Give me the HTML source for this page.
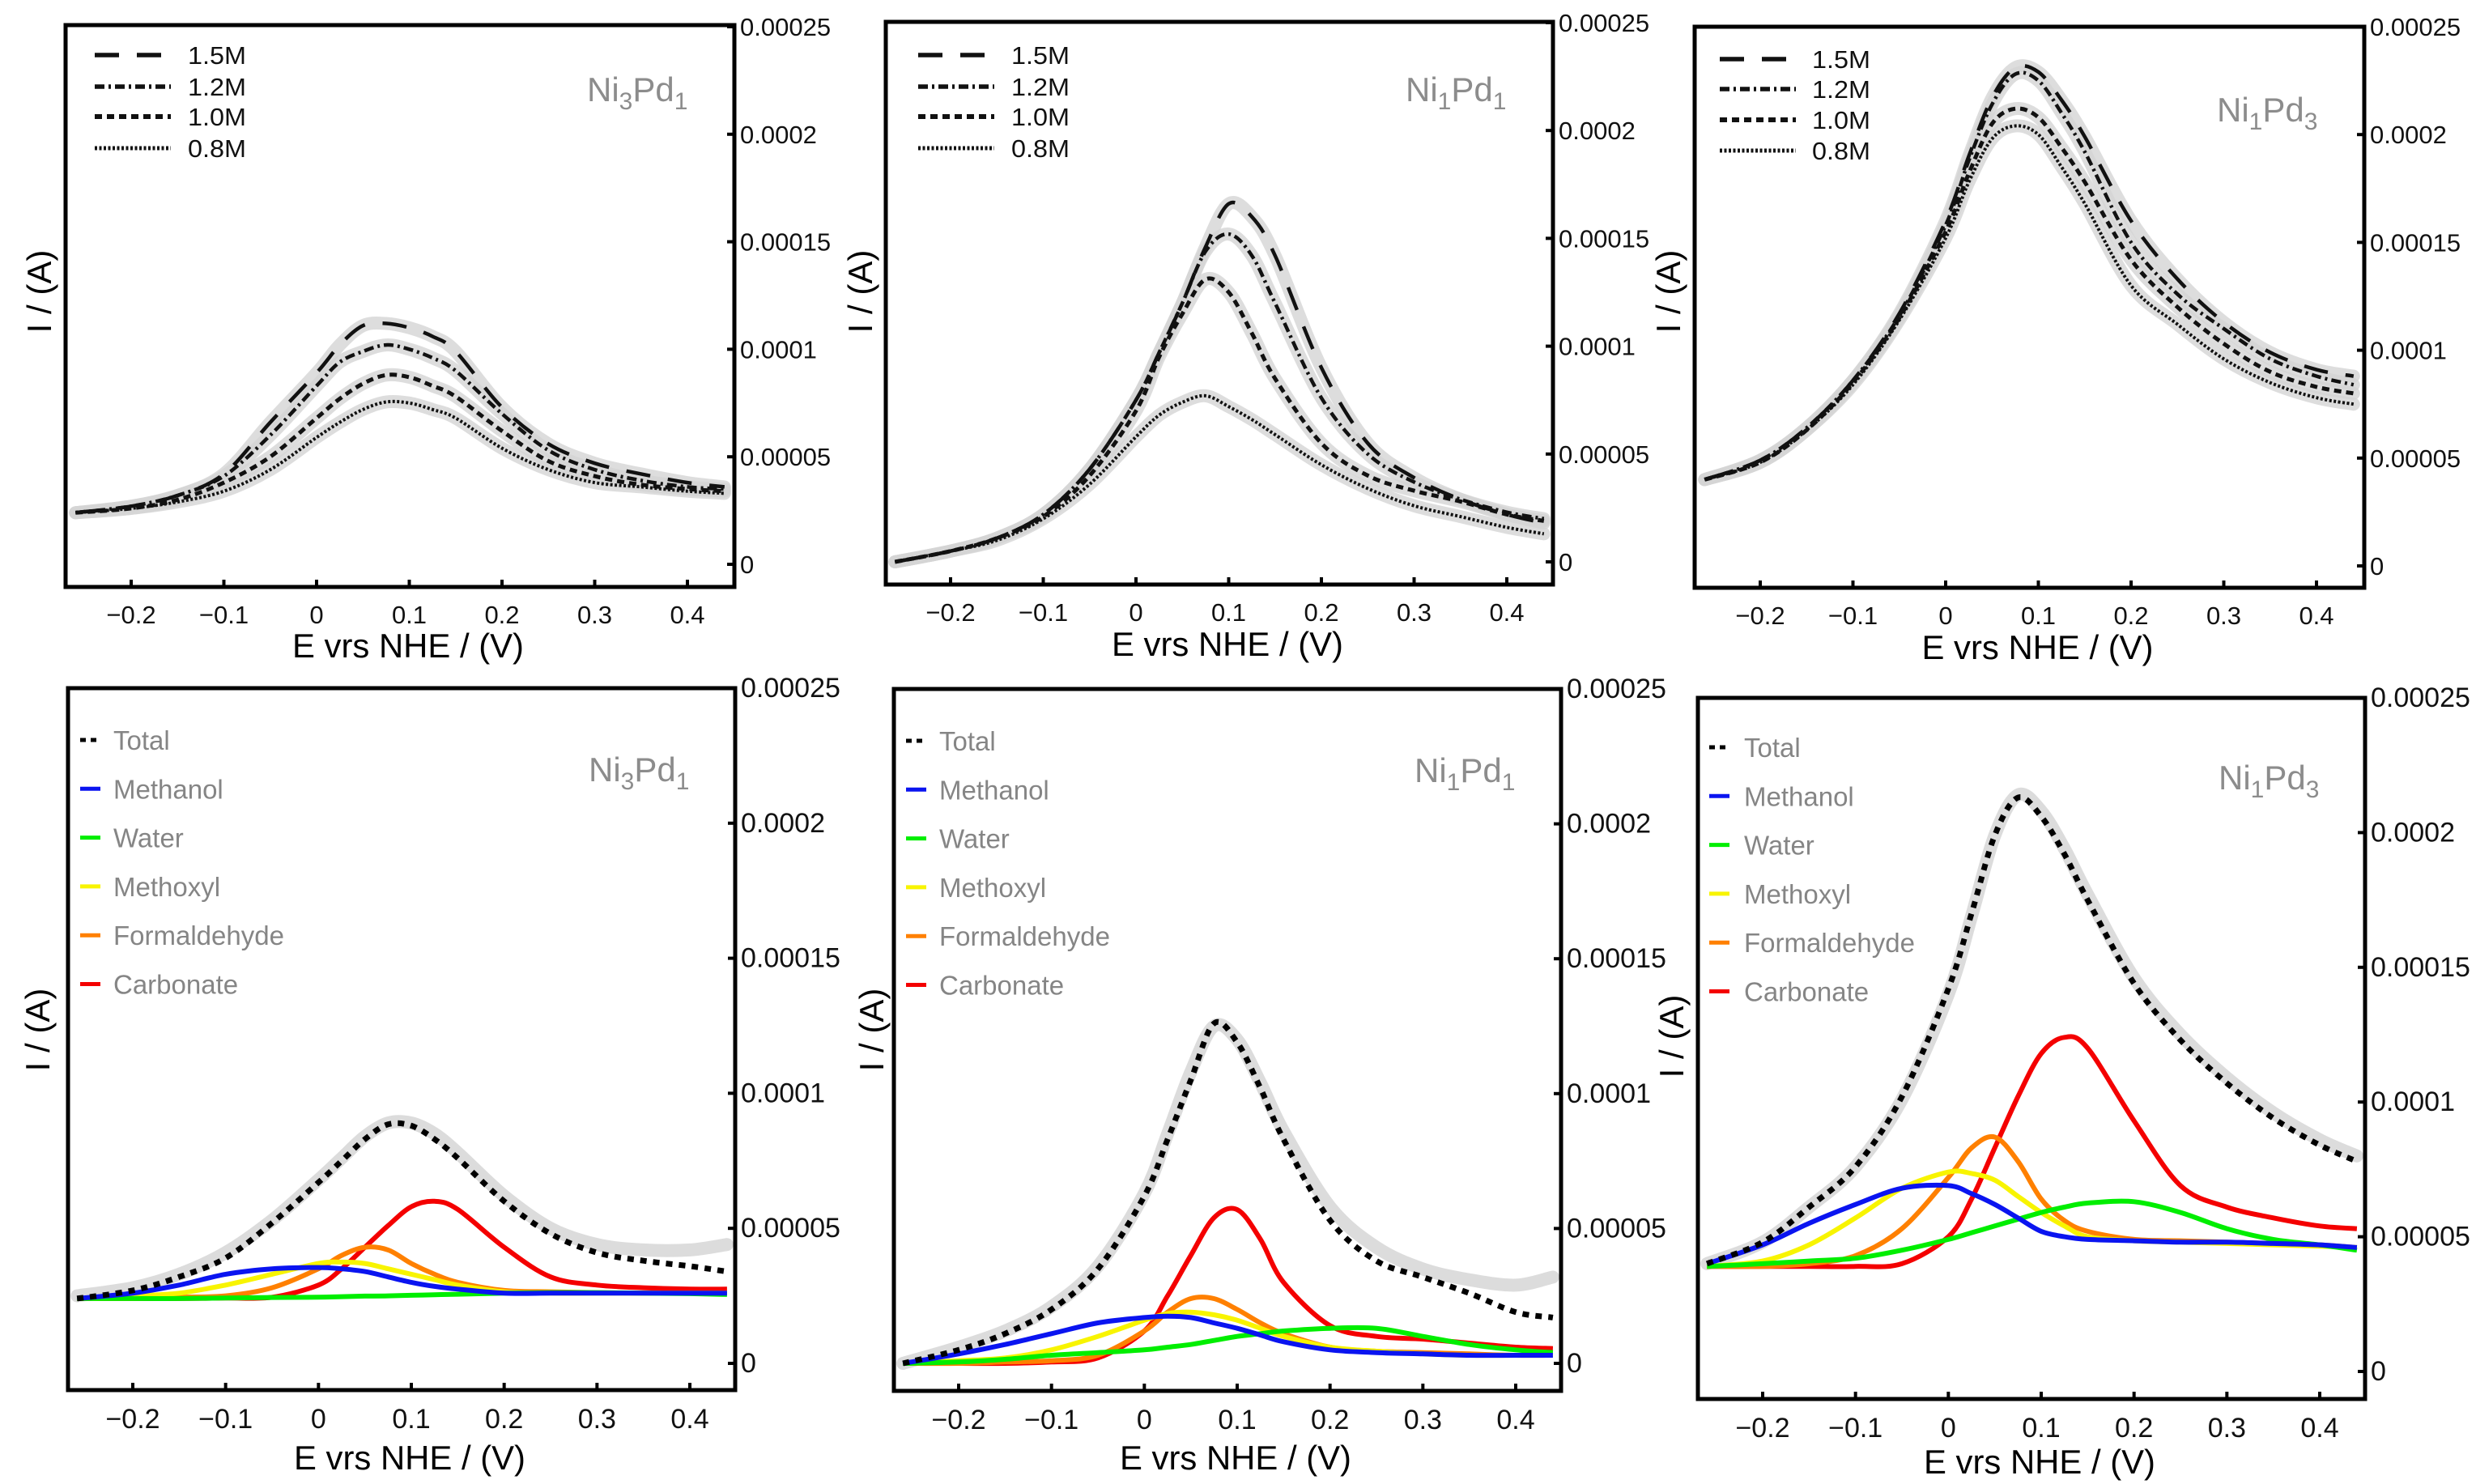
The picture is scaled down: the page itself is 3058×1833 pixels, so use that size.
<!DOCTYPE html>
<html><head><meta charset="utf-8"><style>
html,body{margin:0;padding:0;background:#fff;}
svg{display:block;font-family:"Liberation Sans",Arial,sans-serif;}
</style></head><body>
<svg id="fig" width="3058" height="1833" viewBox="0 0 3058 1833" xmlns="http://www.w3.org/2000/svg"></svg>
<script>
// ---- data (current in units of 1e-5 A) ----
const potentials = [-0.26,-0.2,-0.15,-0.1,-0.05,0,0.025,0.05,0.075,0.1,0.125,0.15,0.2,0.25,0.3,0.35,0.4,0.44];
const xTicks = [-0.2,-0.1,0,0.1,0.2,0.3,0.4];
const xTickLabels = ["\u22120.2","\u22120.1","0","0.1","0.2","0.3","0.4"];
const yTicks = [0,5,10,15,20,25];
const yTickLabels = ["0","0.00005","0.0001","0.00015","0.0002","0.00025"];
const concLabels = ["1.5M","1.2M","1.0M","0.8M"];
const speciesLabels = ["Total","Methanol","Water","Methoxyl","Formaldehyde","Carbonate"];

const ni3pd1_15 = [2.4,2.7,3.2,4.2,6.6,8.9,10.2,11.1,11.2,11.0,10.6,9.9,7.3,5.6,4.7,4.2,3.8,3.6];
const ni3pd1_12 = [2.4,2.7,3.2,4.1,6.0,8.3,9.4,9.9,10.2,10.0,9.6,9.0,7.0,5.3,4.4,3.9,3.6,3.5];
const ni3pd1_10 = [2.4,2.6,3.0,3.8,5.0,6.8,7.7,8.4,8.8,8.7,8.3,7.8,6.2,4.8,4.1,3.7,3.5,3.4];
const ni3pd1_08 = [2.4,2.6,2.9,3.4,4.4,5.9,6.6,7.2,7.55,7.5,7.2,6.8,5.4,4.4,3.8,3.6,3.4,3.3];

const ni1pd1_15 = [0,0.5,1.1,2.2,4.3,7.5,9.7,12.0,14.6,16.6,16.0,14.2,9.0,5.5,3.9,2.9,2.2,1.8];
const ni1pd1_12 = [0,0.5,1.1,2.2,4.3,7.5,9.7,12.0,14.4,15.2,14.2,12.0,7.6,5.0,3.7,2.9,2.3,2.0];
const ni1pd1_10 = [0,0.5,1.1,2.1,4.0,7.0,9.5,11.5,13.1,12.5,10.6,8.5,5.5,4.0,3.3,2.8,2.2,1.9];
const ni1pd1_08 = [0,0.5,1.0,2.0,3.6,5.8,6.8,7.4,7.7,7.2,6.6,5.9,4.5,3.4,2.6,2.1,1.6,1.3];

const ni1pd3_15 = [4.0,4.9,6.4,8.6,11.7,16.0,19.0,21.7,23.1,22.9,21.6,19.9,16.0,13.3,11.3,9.9,9.1,8.8];
const ni1pd3_12 = [4.0,4.9,6.4,8.6,11.6,15.8,18.8,21.4,22.8,22.5,21.0,19.2,15.0,12.6,11.0,9.6,8.8,8.4];
const ni1pd3_10 = [4.0,4.8,6.3,8.5,11.5,15.5,18.2,20.5,21.2,20.8,19.4,17.8,14.2,12.0,10.3,9.0,8.3,8.0];
const ni1pd3_08 = [4.0,4.8,6.3,8.4,11.4,15.2,17.8,19.8,20.4,20.0,18.5,16.8,13.0,11.2,9.6,8.5,7.8,7.5];

const a_total = [2.4,2.7,3.2,3.9,5.2,6.7,7.5,8.3,8.85,8.8,8.3,7.6,6.0,4.8,4.1,3.8,3.6,3.4];
const a_exp = [2.5,2.8,3.3,4.1,5.3,6.8,7.6,8.4,8.9,8.9,8.5,7.8,6.2,5.0,4.4,4.2,4.2,4.4];
const a_methanol = [2.4,2.6,2.9,3.3,3.5,3.55,3.5,3.4,3.2,3.0,2.85,2.75,2.6,2.6,2.6,2.6,2.6,2.6];
const a_water = [2.4,2.4,2.4,2.42,2.44,2.45,2.47,2.49,2.5,2.52,2.54,2.56,2.6,2.62,2.62,2.6,2.58,2.55];
const a_methoxyl = [2.4,2.5,2.6,2.9,3.3,3.7,3.75,3.7,3.5,3.3,3.1,2.9,2.65,2.6,2.6,2.6,2.6,2.6];
const a_formald = [2.4,2.4,2.45,2.5,2.8,3.5,4.0,4.3,4.2,3.7,3.3,3.0,2.7,2.65,2.62,2.6,2.6,2.6];
const a_carbonate = [2.4,2.4,2.4,2.42,2.45,2.9,3.5,4.3,5.1,5.8,6.0,5.7,4.3,3.2,2.9,2.8,2.75,2.75];

const b_total = [0,0.5,1.1,2.0,3.5,6.2,8.3,10.5,12.6,11.9,10.2,8.3,5.3,3.8,3.2,2.6,1.9,1.7];
const b_exp = [0,0.6,1.2,2.1,3.6,6.3,8.5,10.8,12.5,12.0,10.4,8.6,5.8,4.3,3.5,3.1,2.9,3.2];
const b_methanol = [0,0.35,0.7,1.1,1.5,1.7,1.75,1.7,1.5,1.3,1.05,0.8,0.5,0.4,0.35,0.3,0.3,0.3];
const b_water = [0,0.05,0.15,0.3,0.4,0.5,0.6,0.7,0.85,1.0,1.1,1.2,1.3,1.3,1.0,0.7,0.5,0.4];
const b_methoxyl = [0,0.1,0.2,0.5,1.0,1.6,1.85,1.9,1.8,1.6,1.3,1.0,0.6,0.45,0.35,0.3,0.3,0.3];
const b_formald = [0,0,0.05,0.1,0.3,1.2,1.9,2.4,2.4,2.0,1.5,1.1,0.6,0.45,0.4,0.35,0.3,0.3];
const b_carbonate = [0,0,0,0.05,0.2,1.2,2.5,4.0,5.4,5.7,4.6,3.0,1.4,1.0,0.9,0.75,0.6,0.55];

const c_total = [4.0,4.8,6.1,7.6,10.2,14.2,17.0,19.9,21.3,20.6,19.2,17.5,14.4,12.3,10.7,9.4,8.4,7.8];
const c_exp = [4.0,4.8,6.1,7.6,10.1,14.0,16.9,19.9,21.4,20.8,19.4,17.7,14.6,12.5,10.9,9.6,8.6,8.0];
const c_methanol = [4.0,4.7,5.5,6.2,6.8,6.9,6.6,6.2,5.7,5.2,5.0,4.9,4.85,4.8,4.8,4.75,4.7,4.6];
const c_water = [3.9,4.0,4.1,4.2,4.5,4.9,5.15,5.4,5.65,5.9,6.1,6.25,6.3,5.9,5.3,4.9,4.7,4.5];
const c_methoxyl = [3.9,4.1,4.7,5.7,6.8,7.4,7.35,7.1,6.5,5.9,5.4,5.0,4.85,4.8,4.75,4.7,4.65,4.6];
const c_formald = [3.9,3.9,4.0,4.3,5.3,7.2,8.3,8.7,7.8,6.4,5.6,5.2,4.9,4.85,4.8,4.75,4.7,4.6];
const c_carbonate = [3.9,3.9,3.9,3.9,4.0,5.0,6.4,8.3,10.2,11.8,12.4,12.0,9.3,6.9,6.1,5.7,5.4,5.3];

// ---- layout ----
const NS = "http://www.w3.org/2000/svg";
const svg = document.getElementById('fig');
function mk(tag, attrs, parent, text){
  const e = document.createElementNS(NS, tag);
  for (const k in attrs) e.setAttribute(k, attrs[k]);
  if (text !== undefined) e.textContent = text;
  (parent || svg).appendChild(e);
  return e;
}
const concStyles = [
  {dash:"30 22", w:4.5},
  {dash:"12 5 3 5", w:4.5},
  {dash:"9 6", w:5},
  {dash:"3 2.5", w:4}
];
const speciesColors = ["#000000","#0a14f0","#00ee00","#f8f400","#ff8000","#f40000"];

const panels = [
  {name:"ni3pd1-concentration", L:81,R:907,T:31,B:725, xa:162,xb:849, y0:697,y25:33, top:true, label:"3",label2:"1", lx:725, ly:125,
   series:[ni3pd1_15,ni3pd1_12,ni3pd1_10,ni3pd1_08], legX:117, legTX:232, legY:[68,107,144,183], titleY:812, yTitleX:48, yTitleY:360, tickSize:31},
  {name:"ni1pd1-concentration", L:1094,R:1918,T:27,B:722, xa:1174,xb:1861, y0:694,y25:28, top:true, label:"1",label2:"1", lx:1736, ly:125,
   series:[ni1pd1_15,ni1pd1_12,ni1pd1_10,ni1pd1_08], legX:1134, legTX:1249, legY:[68,107,144,183], titleY:810, yTitleX:1062, yTitleY:360, tickSize:31},
  {name:"ni1pd3-concentration", L:2093,R:2920,T:33,B:726, xa:2174,xb:2861, y0:699,y25:33, top:true, label:"1",label2:"3", lx:2738, ly:150,
   series:[ni1pd3_15,ni1pd3_12,ni1pd3_10,ni1pd3_08], legX:2124, legTX:2238, legY:[73,110,148,186], titleY:814, yTitleX:2060, yTitleY:360, tickSize:31},
  {name:"ni3pd1-deconvolution", L:84,R:908,T:850,B:1717, xa:164,xb:852, y0:1684,y25:850, top:false, label:"3",label2:"1", lx:727, ly:965,
   exp:a_exp, series:[a_total,a_methanol,a_water,a_methoxyl,a_formald,a_carbonate], legX:99, legTX:140, legY0:914, titleY:1815, yTitleX:46, yTitleY:1272, tickSize:34},
  {name:"ni1pd1-deconvolution", L:1104,R:1928,T:851,B:1718, xa:1184,xb:1872, y0:1684,y25:851, top:false, label:"1",label2:"1", lx:1747, ly:966,
   exp:b_exp, series:[b_total,b_methanol,b_water,b_methoxyl,b_formald,b_carbonate], legX:1119, legTX:1160, legY0:915, titleY:1815, yTitleX:1076, yTitleY:1272, tickSize:34},
  {name:"ni1pd3-deconvolution", L:2097,R:2921,T:862,B:1728, xa:2177,xb:2865, y0:1694,y25:862, top:false, label:"1",label2:"3", lx:2740, ly:975,
   exp:c_exp, series:[c_total,c_methanol,c_water,c_methoxyl,c_formald,c_carbonate], legX:2111, legTX:2154, legY0:923, titleY:1820, yTitleX:2064, yTitleY:1280, tickSize:34}
];

function smoothPath(pts){
  let d = "M"+pts[0][0].toFixed(1)+","+pts[0][1].toFixed(1);
  for (let i=0;i<pts.length-1;i++){
    const p0=pts[Math.max(0,i-1)], p1=pts[i], p2=pts[i+1], p3=pts[Math.min(pts.length-1,i+2)];
    const c1=[p1[0]+(p2[0]-p0[0])/6, p1[1]+(p2[1]-p0[1])/6];
    const c2=[p2[0]-(p3[0]-p1[0])/6, p2[1]-(p3[1]-p1[1])/6];
    d += " C"+c1[0].toFixed(1)+","+c1[1].toFixed(1)+" "+c2[0].toFixed(1)+","+c2[1].toFixed(1)+" "+p2[0].toFixed(1)+","+p2[1].toFixed(1);
  }
  return d;
}

panels.forEach(p => {
  const g = mk('g', {});
  
  
  const xs = v => p.xa + (v + 0.2) / 0.6 * (p.xb - p.xa);
  const ys = v => p.y0 - v / 25 * (p.y0 - p.y25);
  const clipId = 'clip-' + p.name;
  const cp = mk('clipPath', {id:clipId}, g);
  mk('rect', {x:p.L, y:p.T, width:p.R-p.L, height:p.B-p.T}, cp);
  const plot = mk('g', {'clip-path':'url(#'+clipId+')'}, g);
  const toPts = arr => arr.map((v,i)=>[xs(potentials[i]), ys(v)]);

  if (p.top){
    // experimental marker bands
    p.series.forEach((arr, i) => {
      const band = mk('path', {d:smoothPath(toPts(arr)), fill:'none', stroke:'#d4d4d4', 'stroke-width':16, 'stroke-linecap':'round', opacity:0.8}, plot);
      
      
    });
    p.series.forEach((arr, i) => {
      const st = concStyles[i];
      const ln = mk('path', {d:smoothPath(toPts(arr)), fill:'none', stroke:'#111', 'stroke-width':st.w, 'stroke-dasharray':st.dash}, plot);
      
      
    });
    // legend
    concLabels.forEach((lab, i) => {
      const st = concStyles[i];
      const y = p.legY[i];
      const lg = mk('g', {}, g);
      
      
      mk('line', {x1:p.legX, y1:y, x2:p.legX+94, y2:y, stroke:'#111', 'stroke-width':st.w+1, 'stroke-dasharray':st.dash}, lg);
      mk('text', {x:p.legTX, y:y+11, 'font-size':31, fill:'#111', textLength:72, lengthAdjust:'spacingAndGlyphs'}, lg, lab);
    });
  } else {
    const band = mk('path', {d:smoothPath(toPts(p.exp)), fill:'none', stroke:'#d6d6d6', 'stroke-width':16, 'stroke-linecap':'round', opacity:0.85}, plot);
    
    
    for (let i = p.series.length - 1; i >= 1; i--){
      const ln = mk('path', {d:smoothPath(toPts(p.series[i])), fill:'none', stroke:speciesColors[i], 'stroke-width':6}, plot);
      
      
    }
    const tot = mk('path', {d:smoothPath(toPts(p.series[0])), fill:'none', stroke:'#000', 'stroke-width':7, 'stroke-dasharray':'8 8'}, plot);
    
    
    speciesLabels.forEach((lab, i) => {
      const y = p.legY0 + i * 60.3;
      const lg = mk('g', {}, g);
      
      
      if (i === 0) mk('line', {x1:p.legX, y1:y, x2:p.legX+25, y2:y, stroke:'#000', 'stroke-width':5, 'stroke-dasharray':'7 6'}, lg);
      else mk('line', {x1:p.legX, y1:y, x2:p.legX+25, y2:y, stroke:speciesColors[i], 'stroke-width':5}, lg);
      mk('text', {x:p.legTX, y:y+12, 'font-size':33, fill:'#858585'}, lg, lab);
    });
  }

  // frame
  const fr = mk('rect', {x:p.L, y:p.T, width:p.R-p.L, height:p.B-p.T, fill:'none', stroke:'#000', 'stroke-width':5}, g);
  
  

  // x ticks
  xTicks.forEach((v, i) => {
    const x = xs(v);
    mk('line', {x1:x, y1:p.B, x2:x, y2:p.B-9, stroke:'#000', 'stroke-width':4}, g);
    const t = mk('text', {x:x, y:p.B + (p.top?45:47), 'font-size':p.tickSize, 'text-anchor':'middle', fill:'#111'}, g, xTickLabels[i]);
    
    
  });
  // y ticks (right)
  yTicks.forEach((v, i) => {
    const y = ys(v);
    mk('line', {x1:p.R, y1:y, x2:p.R-9, y2:y, stroke:'#000', 'stroke-width':4}, g);
    const t = mk('text', {x:p.R+7, y:y+11, 'font-size':p.tickSize, fill:'#111'}, g, yTickLabels[i]);
    
    
  });
  // axis titles
  const xt = mk('text', {x:(p.L+p.R)/2+10, y:p.titleY, 'font-size':42, 'text-anchor':'middle', fill:'#000', textLength:286, lengthAdjust:'spacingAndGlyphs'}, g, 'E vrs NHE / (V)');
  
  
  const yt = mk('text', {x:0, y:0, 'font-size':42, 'text-anchor':'middle', fill:'#000', transform:'translate('+(p.yTitleX+15)+','+p.yTitleY+') rotate(-90)'}, g, 'I / (A)');
  
  
  // composition label
  const cl = mk('text', {x:p.lx, y:p.ly, 'font-size':42, fill:'#8c8c8c'}, g);
  
  
  mk('tspan', {}, cl, 'Ni');
  mk('tspan', {'font-size':30, dy:10}, cl, p.label);
  mk('tspan', {dy:-10}, cl, 'Pd');
  mk('tspan', {'font-size':30, dy:10}, cl, p.label2);
});
</script>
</body></html>
